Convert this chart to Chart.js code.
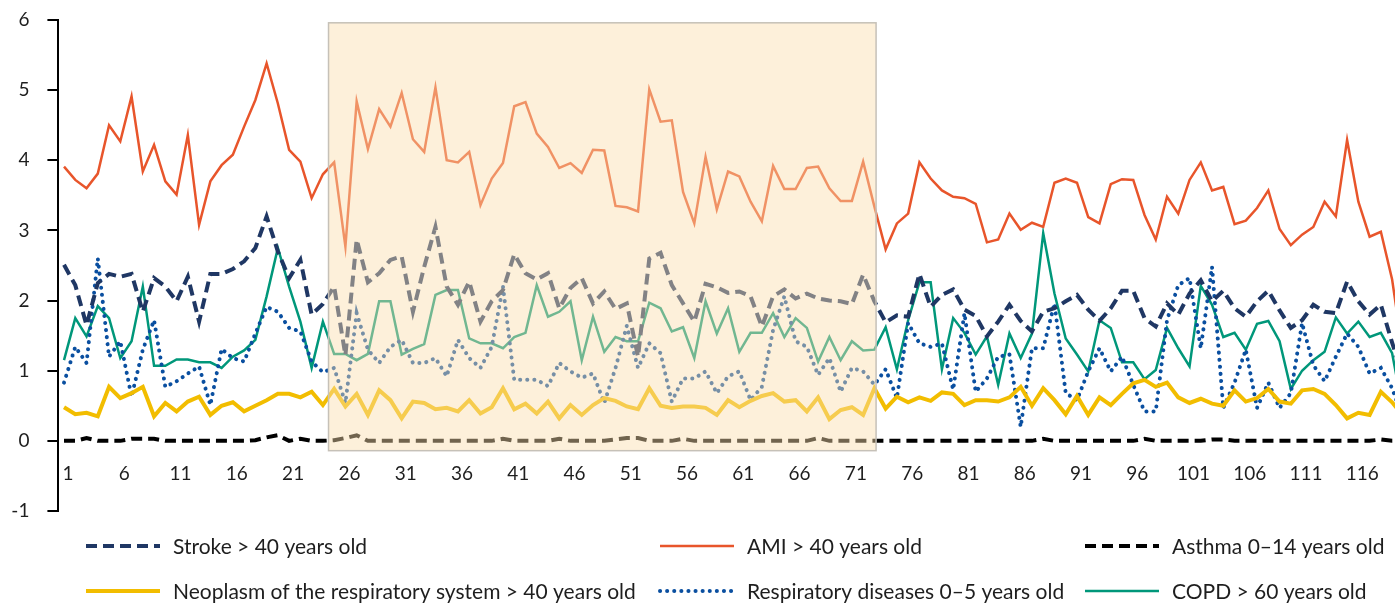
<!DOCTYPE html>
<html>
<head>
<meta charset="utf-8">
<script src="https://cdn.jsdelivr.net/npm/chart.js@4.4.1/dist/chart.umd.min.js"></script>
<style>
  html, body { margin: 0; padding: 0; background: #fff; overflow: hidden; }
  #wrap { width: 1409px; height: 603px; }
</style>
</head>
<body>
<div id="wrap"><canvas id="c"></canvas></div>
<script>
// weeks 1..120 (the chart is cut at the right edge)
const weeks = Array.from({ length: 120 }, (_, i) => String(i + 1));

const stroke = [
  2.51, 2.22, 1.65, 2.25, 2.38, 2.34, 2.38, 1.84, 2.32, 2.20,
  1.99, 2.34, 1.70, 2.38, 2.38, 2.45, 2.56, 2.75, 3.20, 2.70,
  2.32, 2.58, 1.80, 1.95, 2.20, 1.22, 2.87, 2.26, 2.39, 2.58,
  2.63, 1.84, 2.48, 3.05, 2.20, 1.94, 2.27, 1.70, 1.99, 2.15,
  2.66, 2.39, 2.30, 2.39, 1.89, 2.18, 2.32, 1.96, 2.13, 1.88,
  1.96, 1.20, 2.60, 2.68, 2.22, 1.96, 1.70, 2.24, 2.19, 2.11,
  2.13, 2.06, 1.63, 2.06, 2.16, 2.03, 2.10, 2.03, 2.00, 1.99,
  1.95, 2.37, 1.99, 1.69, 1.79, 1.77, 2.38, 1.91, 2.08, 2.16,
  1.87, 1.78, 1.49, 1.70, 1.94, 1.71, 1.56, 1.84, 1.89, 1.99,
  2.08, 1.87, 1.71, 1.89, 2.14, 2.14, 1.75, 1.63, 1.96, 1.80,
  2.10, 2.29, 1.99, 2.14, 1.89, 1.77, 1.99, 2.14, 1.86, 1.61,
  1.72, 1.94, 1.84, 1.82, 2.27, 1.99, 1.80, 1.94, 1.40, 0.90
];

const ami = [
  3.91, 3.72, 3.60, 3.81, 4.50, 4.27, 4.91, 3.84, 4.22, 3.70,
  3.51, 4.36, 3.08, 3.70, 3.93, 4.08, 4.48, 4.86, 5.38, 4.81,
  4.15, 3.98, 3.46, 3.80, 3.97, 2.77, 4.84, 4.16, 4.73, 4.48,
  4.96, 4.30, 4.12, 5.04, 4.00, 3.97, 4.12, 3.36, 3.74, 3.96,
  4.77, 4.83, 4.38, 4.19, 3.89, 3.96, 3.82, 4.15, 4.14, 3.35,
  3.33, 3.27, 5.01, 4.55, 4.57, 3.55, 3.10, 4.05, 3.30, 3.84,
  3.77, 3.41, 3.13, 3.92, 3.59, 3.59, 3.89, 3.91, 3.60, 3.42,
  3.42, 3.98, 3.34, 2.73, 3.10, 3.24, 3.97, 3.74, 3.57, 3.48,
  3.46, 3.38, 2.83, 2.87, 3.24, 3.01, 3.11, 3.05, 3.68, 3.74,
  3.68, 3.19, 3.10, 3.66, 3.73, 3.72, 3.22, 2.87, 3.48, 3.24,
  3.72, 3.97, 3.57, 3.62, 3.09, 3.14, 3.32, 3.57, 3.02, 2.79,
  2.94, 3.05, 3.41, 3.20, 4.29, 3.41, 2.91, 2.98, 2.30, 1.20
];

const asthma = [
  0, 0, 0.04, 0, 0, 0, 0.03, 0.03, 0.03, 0,
  0, 0, 0, 0, 0, 0, 0, 0.01, 0.05, 0.08,
  0, 0.03, 0, 0, 0.01, 0.04, 0.08, 0, 0, 0,
  0, 0, 0, 0, 0, 0, 0, 0, 0, 0.03,
  0, 0, 0, 0, 0.03, 0, 0, 0, 0, 0.02,
  0.04, 0.04, 0, 0, 0, 0.03, 0, 0, 0, 0,
  0, 0, 0, 0, 0, 0, 0, 0.04, 0, 0,
  0, 0, 0, 0, 0, 0, 0, 0, 0, 0,
  0, 0, 0, 0, 0, 0, 0, 0.03, 0, 0,
  0, 0, 0, 0, 0, 0, 0.03, 0, 0, 0,
  0, 0, 0.02, 0.02, 0, 0, 0, 0, 0, 0,
  0, 0, 0, 0, 0, 0, 0, 0.02, 0, 0
];

const neoplasm = [
  0.48, 0.38, 0.40, 0.35, 0.77, 0.61, 0.68, 0.77, 0.35, 0.54,
  0.42, 0.56, 0.63, 0.37, 0.50, 0.55, 0.42, 0.50, 0.58, 0.67,
  0.67, 0.62, 0.70, 0.51, 0.74, 0.49, 0.67, 0.37, 0.72, 0.58,
  0.32, 0.56, 0.54, 0.45, 0.47, 0.42, 0.58, 0.39, 0.48, 0.75,
  0.45, 0.53, 0.39, 0.56, 0.32, 0.51, 0.37, 0.51, 0.61, 0.57,
  0.49, 0.45, 0.75, 0.50, 0.47, 0.49, 0.49, 0.47, 0.37, 0.58,
  0.48, 0.57, 0.64, 0.68, 0.56, 0.58, 0.42, 0.62, 0.31, 0.44,
  0.48, 0.37, 0.75, 0.46, 0.63, 0.55, 0.62, 0.57, 0.69, 0.67,
  0.51, 0.58, 0.58, 0.56, 0.62, 0.77, 0.50, 0.75, 0.58, 0.38,
  0.64, 0.37, 0.62, 0.51, 0.67, 0.82, 0.87, 0.77, 0.83, 0.62,
  0.54, 0.60, 0.53, 0.50, 0.72, 0.56, 0.61, 0.74, 0.56, 0.53,
  0.72, 0.74, 0.67, 0.51, 0.32, 0.40, 0.37, 0.70, 0.55, 0.35
];

const respiratory = [
  0.83, 1.34, 1.11, 2.60, 1.20, 1.42, 0.63, 1.30, 1.72, 0.77,
  0.85, 0.96, 1.06, 0.51, 1.31, 1.18, 1.13, 1.53, 1.91, 1.84,
  1.61, 1.56, 1.13, 0.98, 1.04, 0.54, 1.82, 1.30, 1.11, 1.34,
  1.44, 1.11, 1.11, 1.18, 0.92, 1.44, 1.18, 1.04, 1.34, 2.20,
  0.87, 0.87, 0.87, 0.78, 1.11, 0.99, 0.90, 0.96, 0.54, 1.04,
  1.64, 1.04, 1.39, 1.25, 0.56, 0.89, 0.89, 0.99, 0.68, 0.92,
  0.99, 0.58, 0.77, 1.58, 2.06, 1.42, 1.34, 0.94, 1.18, 0.70,
  1.04, 0.99, 0.80, 1.02, 0.61, 1.68, 1.39, 1.34, 1.39, 0.73,
  1.82, 0.70, 0.89, 1.20, 1.23, 0.20, 1.32, 1.32, 1.96, 0.68,
  0.58, 0.99, 1.32, 0.99, 1.20, 0.80, 0.42, 0.42, 1.72, 2.22,
  2.32, 1.32, 2.48, 0.47, 0.83, 1.30, 0.47, 0.83, 0.47, 0.68,
  1.68, 1.08, 0.85, 1.20, 1.53, 1.34, 0.96, 1.04, 0.75, 0.30
];

const copd = [
  1.15, 1.75, 1.49, 1.92, 1.75, 1.18, 1.42, 2.20, 1.07, 1.07,
  1.16, 1.16, 1.12, 1.12, 1.04, 1.20, 1.29, 1.44, 2.06, 2.75,
  2.20, 1.70, 1.04, 1.70, 1.24, 1.24, 1.15, 1.24, 1.99, 1.99,
  1.23, 1.31, 1.38, 2.08, 2.15, 2.15, 1.46, 1.39, 1.39, 1.32,
  1.48, 1.54, 2.22, 1.77, 1.84, 1.99, 1.15, 1.77, 1.27, 1.48,
  1.42, 1.42, 1.97, 1.89, 1.56, 1.62, 1.18, 1.99, 1.53, 1.89,
  1.27, 1.54, 1.54, 1.82, 1.48, 1.75, 1.61, 1.13, 1.48, 1.15,
  1.42, 1.29, 1.30, 1.62, 1.02, 1.72, 2.26, 2.26, 1.02, 1.75,
  1.54, 1.23, 1.49, 0.80, 1.53, 1.18, 1.53, 2.96, 2.10, 1.46,
  1.23, 0.99, 1.72, 1.61, 1.12, 1.12, 0.88, 1.01, 1.61, 1.32,
  1.06, 2.21, 1.94, 1.48, 1.54, 1.30, 1.67, 1.71, 1.42, 0.74,
  1.00, 1.15, 1.27, 1.76, 1.53, 1.70, 1.48, 1.54, 1.25, 0.40
];

// highlighted period (category index / y value)
const highlight = { from: 23.5, to: 72.15, top: 5.96, bottom: -0.14 };

const FONT = 'Lato, "Open Sans", sans-serif';

const highlightBox = {
    id: 'highlightBox',
    afterDatasetsDraw(chart) {
        const { ctx, scales: { x, y } } = chart;
        const l = x.getPixelForValue(highlight.from);
        const r = x.getPixelForValue(highlight.to);
        const t = y.getPixelForValue(highlight.top);
        const b = y.getPixelForValue(highlight.bottom);
        ctx.save();
        ctx.fillStyle = 'rgba(251,222,172,0.45)';
        ctx.fillRect(l, t, r - l, b - t);
        ctx.strokeStyle = '#c6c1b8';
        ctx.lineWidth = 1.5;
        ctx.strokeRect(l, t, r - l, b - t);
        ctx.restore();
    }
};

// legend in 3 columns x 2 rows, like the original
const gridLegend = {
    id: 'gridLegend',
    afterDraw(chart) {
        const { ctx } = chart;
        const cols = [86, 660, 1085];
        const rows = [546, 591];
        ctx.save();
        ctx.font = '21px ' + FONT;
        ctx.textBaseline = 'middle';
        chart.data.datasets.forEach((ds, i) => {
            const x0 = cols[i % 3];
            const y0 = rows[Math.floor(i / 3)];
            ctx.beginPath();
            ctx.strokeStyle = ds.borderColor;
            ctx.lineWidth = ds.borderWidth;
            ctx.lineCap = ds.borderCapStyle || 'butt';
            ctx.setLineDash(ds.borderDash || []);
            ctx.moveTo(x0, y0);
            ctx.lineTo(x0 + 74, y0);
            ctx.stroke();
            ctx.setLineDash([]);
            ctx.fillStyle = '#1e1e1e';
            ctx.fillText(ds.label, x0 + 87, y0 + 1);
        });
        ctx.restore();
    }
};

const line = (label, data, color, width, extra) => Object.assign({
    label, data,
    borderColor: color,
    borderWidth: width,
    pointRadius: 0,
    tension: 0,
    fill: false
}, extra || {});

new Chart(document.getElementById('c'), {
    type: 'line',
    data: {
        labels: weeks,
        datasets: [
            line('Stroke > 40 years old', stroke, '#1f3764', 4, { borderDash: [11, 6] }),
            line('AMI > 40 years old', ami, '#e8552b', 2.5),
            line('Asthma 0–14 years old', asthma, '#000000', 4, { borderDash: [11, 6] }),
            line('Neoplasm of the respiratory system > 40 years old', neoplasm, '#f2bd00', 4),
            line('Respiratory diseases 0–5 years old', respiratory, '#0a4fa0', 4, { borderDash: [0.1, 7], borderCapStyle: 'round' }),
            line('COPD > 60 years old', copd, '#00977a', 2.5)
        ]
    },
    options: {
        responsive: true,
        maintainAspectRatio: false,
        animation: false,
        layout: { padding: { top: 0, bottom: 92, left: 0, right: 0 } },
        plugins: {
            legend: { display: false },
            tooltip: { enabled: false }
        },
        scales: {
            x: {
                type: 'category',
                offset: true,
                position: { y: 0 },
                grid: { display: false, drawTicks: false },
                border: { display: false },
                ticks: {
                    autoSkip: false,
                    maxRotation: 0,
                    padding: 22,
                    labelOffset: 4,
                    color: '#1e1e1e',
                    font: { family: FONT, size: 19 },
                    callback: (v, i) => i % 5 === 0 ? weeks[i] : null
                }
            },
            y: {
                min: -1,
                max: 6,
                afterFit: s => { s.width = 58.4; s.paddingTop = 20; s.paddingBottom = 0; },
                grid: { drawOnChartArea: false, drawTicks: true, tickLength: 11, color: '#000', lineWidth: 2 },
                border: { display: true, color: '#000', width: 2 },
                ticks: {
                    stepSize: 1,
                    padding: 18,
                    color: '#1e1e1e',
                    font: { family: FONT, size: 19 }
                }
            }
        }
    },
    plugins: [highlightBox, gridLegend]
});
</script>
</body>
</html>
